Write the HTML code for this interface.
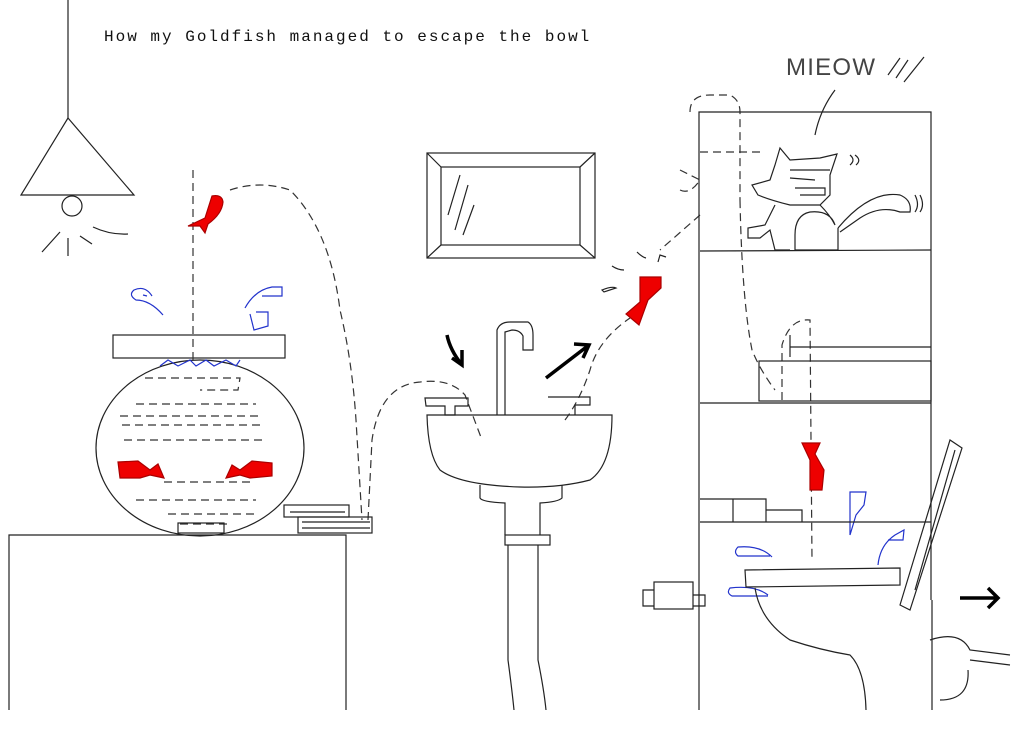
<!DOCTYPE html>
<html><head><meta charset="utf-8"><style>
html,body{margin:0;padding:0;background:#fff;width:1024px;height:732px;overflow:hidden}
svg{display:block}
</style></head><body>
<svg width="1024" height="732" viewBox="0 0 1024 732" xmlns="http://www.w3.org/2000/svg" fill="none" stroke="#222" stroke-width="1.2">
<text x="104" y="41" font-family="Liberation Mono, monospace" font-size="16" letter-spacing="2" fill="#111" stroke="none">How my Goldfish managed to escape the bowl</text>
<!-- lamp -->
<path d="M68 0 L68 118"/>
<path d="M68 118 L21 195 L134 195 Z"/>
<circle cx="72" cy="206" r="10"/>
<path d="M60 232 L42 252 M68 238 L68 256 M80 236 L92 244 M93 227 Q110 235 128 234"/>
<!-- bowl -->
<rect x="113" y="335" width="172" height="23"/>
<ellipse cx="200" cy="448" rx="104" ry="88"/>
<path d="M160 366 L168 360 L178 366 L190 360 L196 366 L206 360 L214 366 L226 360 L236 366 L240 360" stroke="#2233cc"/>
<g stroke-dasharray="8 5" stroke="#333">
<path d="M145 378 L240 378 L238 390 L200 390 M136 404 L256 404 M120 416 L262 416 M122 425 L262 425 M124 440 L266 440 M164 482 L250 482 M136 500 L256 500 M168 514 L256 514 M180 524 L228 524"/>
<path d="M193 170 L193 365" />
<path d="M230 190 Q260 180 290 190 Q330 230 340 310 Q352 360 356 420 L362 520 M368 520 L372 440 Q380 385 420 382 Q450 378 465 395 L482 440"/>
<path d="M565 420 Q580 400 590 370 Q598 340 630 318 M700 215 L660 250"/>
<path d="M690 112 Q690 95 710 95 L730 95 Q740 100 740 112 L740 200 M740 200 Q742 300 752 350 Q760 370 775 390 M782 400 L782 345 Q790 318 810 320 L812 560"/>
<path d="M700 152 L760 152 M680 170 L700 180 Q690 195 680 190"/>
</g>
<rect x="178" y="523" width="46" height="10"/>
<!-- fish -->
<g fill="#ee0000" stroke="#aa0000">
<path d="M212 196 Q222 194 223 202 Q222 214 208 224 L205 233 L200 226 L188 226 L205 218 Z"/>
<path d="M118 462 L138 461 L150 470 L158 464 L164 478 L150 475 L140 478 L120 478 Z"/>
<path d="M272 463 L252 461 L240 470 L232 465 L226 478 L240 475 L250 478 L272 476 Z"/>
<path d="M640 277 L661 277 L661 288 L648 300 L639 325 L626 314 L640 302 Z"/>
<path d="M802 443 L820 443 L815 454 L824 470 L822 490 L810 490 L810 460 Z"/>
</g>
<!-- water drops -->
<g stroke="#2233cc">
<path d="M163 315 Q150 300 136 300 Q128 295 134 290 Q145 285 152 296 M143 295 L147 296"/>
<path d="M245 308 Q255 290 272 287 L282 287 L282 296 L262 296 M250 314 L254 330 L268 326 L268 312 L256 312"/>
<path d="M850 492 L866 492 L864 505 L856 515 L850 535 Z"/>
<path d="M878 565 Q880 545 895 535 L904 530 L903 540 L888 540"/>
<path d="M772 557 Q760 545 738 547 Q733 552 738 556 L770 556"/>
<path d="M768 595 Q755 585 730 588 Q726 593 732 596 L768 596"/>
</g>
<!-- table & books -->
<path d="M9 710 L9 535 L346 535 L346 710"/>
<rect x="284" y="505" width="65" height="12"/>
<rect x="298" y="517" width="74" height="16"/>
<path d="M290 512 L345 512 M302 522 L370 522 M302 528 L370 528"/>
<!-- mirror -->
<rect x="427" y="153" width="168" height="105"/>
<rect x="441" y="167" width="139" height="78"/>
<path d="M427 153 L441 167 M595 153 L580 167 M427 258 L441 245 M595 258 L580 245 M460 175 L448 215 M468 185 L455 230 M474 205 L463 235"/>
<!-- arrows -->
<path d="M447 335 Q450 350 462 365 M452 358 L462 365 L462 350" stroke="#000" stroke-width="3.5"/>
<path d="M546 378 L589 345 M574 344 L589 345 L583 358" stroke="#000" stroke-width="3.5"/>
<path d="M960 598 L998 598 M988 588 L998 598 L988 608" stroke="#000" stroke-width="3.5"/>
<!-- sink -->
<path d="M497 415 L497 330 Q500 322 510 322 L528 322 Q533 325 533 335 L533 350 L523 350 L523 336 Q520 330 512 330 L505 332 L505 415"/>
<path d="M425 398 L468 398 L468 406 L455 406 L455 415 L445 415 L445 406 L426 406 Z"/>
<path d="M548 397 L590 397 L590 405 L575 405 L575 415"/>
<path d="M427 415 L612 415 Q612 465 590 480 Q560 488 520 487 Q460 485 440 470 Q428 455 427 415 Z"/>
<path d="M480 485 L480 498 Q482 502 505 503 L505 535 M562 485 L562 498 Q558 502 540 503 L540 535"/>
<rect x="505" y="535" width="45" height="10"/>
<path d="M508 545 L508 660 Q512 690 514 710 M538 545 L538 660 Q544 690 546 710"/>
<!-- cabinet -->
<path d="M699 710 L699 112 L931 112 L931 600"/>
<path d="M700 251 L931 250 M700 403 L931 403 M700 522 L931 522"/>
<rect x="759" y="361" width="172" height="40"/>
<path d="M790 347 L931 347 M790 335 L790 357"/>
<path d="M700 499 L733 499 L733 522 M733 499 L766 499 L766 522 M766 510 L802 510 L802 522"/>
<rect x="654" y="582" width="39" height="27"/>
<path d="M654 590 L643 590 L643 606 L654 606 M693 595 L705 595 L705 606 L693 606"/>
<!-- toilet -->
<path d="M745 570 L900 568 L900 585 L746 587 Z"/>
<path d="M900 605 L950 440 L962 448 L910 610 Z"/>
<path d="M955 450 L915 590"/>
<path d="M755 588 Q760 620 790 640 Q820 650 850 655 Q865 670 866 710"/>
<path d="M932 600 L932 710 M930 640 Q960 630 970 650 L1010 655 M970 660 L1010 665 M940 700 Q970 700 968 670"/>
<!-- cat -->
<path d="M780 148 L790 160 L820 158 L837 154 L830 175 L830 195 L820 205 L790 205 Q770 200 758 195 L752 185 L770 180 L775 165 Z"/>
<path d="M790 170 L830 170 M790 178 L815 180 M795 188 L825 188 L825 195 L800 195"/>
<path d="M820 205 Q830 215 835 225 Q830 210 810 212 Q795 215 795 235 L795 250 L838 250 L838 228"/>
<path d="M775 205 L765 225 L748 228 L748 238 L760 238 L770 230 L775 250 L790 250"/>
<path d="M838 228 Q870 190 900 195 Q912 200 910 212 L900 212 Q880 205 860 218 L840 232"/>
<path d="M815 135 Q820 110 835 90 M850 155 Q856 160 850 165 M855 155 Q862 160 856 165 M915 195 Q920 205 915 212 M920 195 Q925 205 920 212"/>
<text x="786" y="75" font-family="Liberation Sans, sans-serif" font-size="24" fill="#444" stroke="none" letter-spacing="1" textLength="90">MIEOW</text>
<path d="M888 75 L900 58 M896 78 L908 60 M904 82 L924 57"/>
<!-- splash drops -->
<path d="M602 290 Q612 286 616 288 L604 292 Z M612 266 Q618 270 624 270 M637 252 Q642 257 646 258 M658 262 L660 255 L666 257"/>
</svg>
</body></html>
